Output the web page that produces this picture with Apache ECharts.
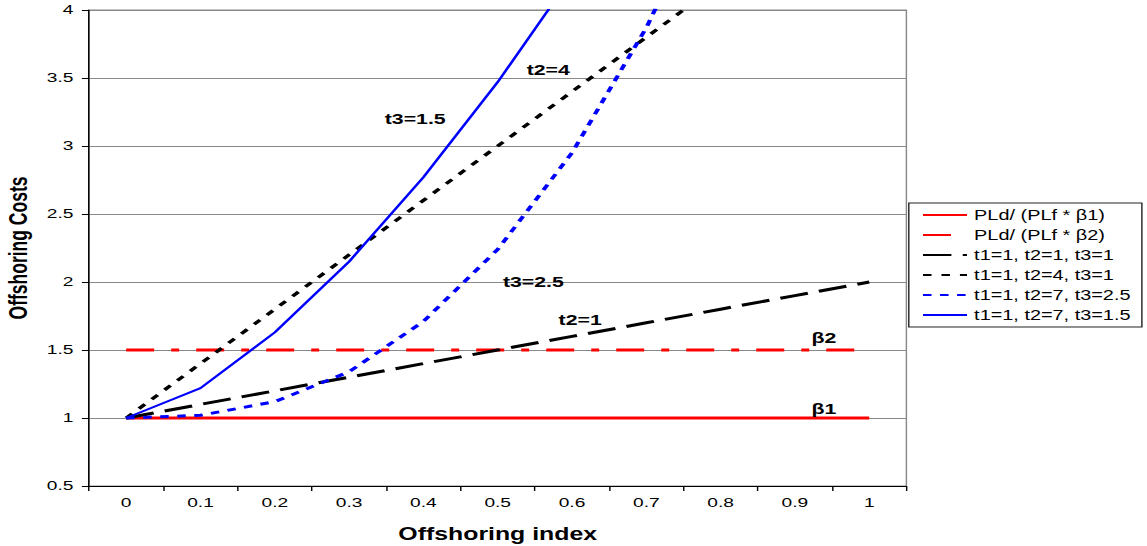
<!DOCTYPE html>
<html><head><meta charset="utf-8">
<script src="https://cdn.jsdelivr.net/npm/echarts@6/dist/echarts.min.js"></script>
<style>
html,body{margin:0;padding:0;background:#fff;overflow:hidden;width:1147px;height:546px}
#c{width:807.75px;height:546px;transform:scaleX(1.42);transform-origin:0 0}
</style>
</head><body><div id="c"></div>
<script>
const categories = ['0','0.1','0.2','0.3','0.4','0.5','0.6','0.7','0.8','0.9','1'];
const beta1 = [1,1,1,1,1,1,1,1,1,1,1];
const beta2 = [1.5,1.5,1.5,1.5,1.5,1.5,1.5,1.5,1.5,1.5,1.5];
const t111 = [1,1.1,1.2,1.3,1.4,1.5,1.6,1.7,1.8,1.9,2];
const t141 = [1,1.4,1.8,2.2,2.6,3.0,3.4,3.8,4.2,4.6,5.0];
const t1725 = [1,1.02,1.12,1.34,1.71,2.24,2.95,3.87,5.0,6.4,8.0];
const t1715 = [1,1.22,1.63,2.15,2.77,3.47,4.25,5.1,6.0,6.98,8.0];
const yTicks = {min:0.5, max:4, interval:0.5};
const seriesNames = ['PLd/ (PLf * β1)','PLd/ (PLf * β2)','t1=1, t2=1, t3=1','t1=1, t2=4, t3=1','t1=1, t2=7, t3=2.5','t1=1, t2=7, t3=1.5'];
const notes = [
  {text:'t2=4', x:5.68, y:3.56},
  {text:'t3=1.5', x:3.89, y:3.2},
  {text:'t3=2.5', x:5.48, y:2.0},
  {text:'t2=1', x:6.11, y:1.72},
  {text:'β2', x:9.39, y:1.59},
  {text:'β1', x:9.39, y:1.07}
];

const FONT = '"Liberation Sans", Arial, sans-serif';
const chart = echarts.init(document.getElementById('c'), null, {renderer:'svg'});
function line(name, data, color, width, type, z) {
  return {name, type:'line', data, symbol:'none', z: z, clip:true,
    lineStyle:{color, width, type, cap:'butt'}, itemStyle:{color}, animation:false};
}
chart.setOption({
  animation:false,
  grid:{left:62.7, right:169.7, top:10, bottom:60, show:true, borderColor:'#888', borderWidth:1,
    containLabel:false, outerBoundsMode:'none'},
  legend:{
    orient:'vertical', left:640, top:203,
    padding:[5,8,5,9], itemGap:6, itemWidth:31, itemHeight:14,
    backgroundColor:'#fff', borderColor:'#222', borderWidth:1,
    itemStyle:{opacity:0, borderWidth:0},
    textStyle:{fontFamily:FONT, fontSize:14, color:'#000'},
    data: seriesNames
  },
  xAxis:{
    type:'category', data:categories, boundaryGap:true,
    name:'Offshoring index', nameLocation:'middle', nameGap:39,
    nameTextStyle:{fontFamily:FONT, fontSize:17.5, fontWeight:'bold', color:'#000'},
    axisLine:{lineStyle:{color:'#000', width:1}},
    axisTick:{show:true, length:5, lineStyle:{color:'#000'}},
    axisLabel:{fontFamily:FONT, fontSize:13.5, color:'#000', margin:10},
    splitLine:{show:false}
  },
  yAxis:{
    type:'value', min:yTicks.min, max:yTicks.max, interval:yTicks.interval,
    name:'Offshoring Costs', nameLocation:'middle', nameGap:36, nameRotate:90,
    nameTextStyle:{fontFamily:FONT, fontSize:17.5, fontWeight:'bold', color:'#000'},
    axisLine:{show:true, lineStyle:{color:'#000', width:1}},
    axisTick:{show:true, length:5, lineStyle:{color:'#000'}},
    axisLabel:{fontFamily:FONT, fontSize:13.5, color:'#000', margin:11},
    splitLine:{show:true, lineStyle:{color:'#888', width:1}}
  },
  series:[
    line(seriesNames[0], beta1, '#ff0000', 3, 'solid', 2),
    line(seriesNames[1], beta2, '#ff0000', 3, [19.7,12,5.6,12], 2),
    line(seriesNames[2], t111, '#000000', 3, [20,8], 3),
    line(seriesNames[3], t141, '#000000', 3, [6,7], 3),
    line(seriesNames[4], t1725, '#0000ff', 3, [6,6], 4),
    line(seriesNames[5], t1715, '#0000ff', 2, 'solid', 5)
  ]
});
function toPixel(xIdx, y) {
  const i0 = Math.floor(xIdx), f = xIdx - i0;
  const a = chart.convertToPixel({gridIndex:0}, [i0, y]);
  const b = chart.convertToPixel({gridIndex:0}, [i0 + 1, y]);
  return [a[0] + f * (b[0] - a[0]), a[1]];
}
const graphics = notes.map(n => {
  const p = toPixel(n.x, n.y);
  return {type:'text', x:p[0], y:p[1], z:100,
    style:{text:n.text, fill:'#000', font:'bold 15px ' + FONT, textAlign:'center', textVerticalAlign:'middle'}};
});
chart.setOption({graphic:graphics});
</script>
</body></html>
